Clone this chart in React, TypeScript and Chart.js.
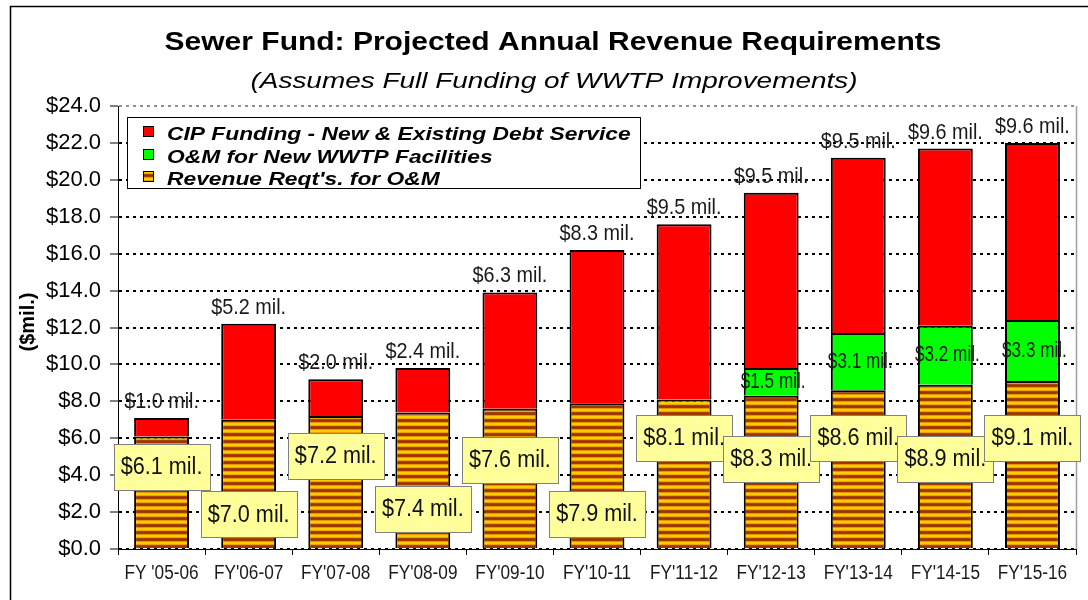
import React, { useEffect, useRef } from "react";
import { Chart, registerables } from "chart.js";

Chart.register(...registerables);

// ---------- data ----------
const categories = [
  "FY '05-06", "FY'06-07", "FY'07-08", "FY'08-09", "FY'09-10", "FY'10-11",
  "FY'11-12", "FY'12-13", "FY'13-14", "FY'14-15", "FY'15-16",
];
const omRequirements = [6.1, 7.0, 7.2, 7.4, 7.6, 7.9, 8.1, 8.3, 8.6, 8.9, 9.1];
const newWwtpOm = [0, 0, 0, 0, 0, 0, 0, 1.5, 3.1, 3.2, 3.3];
const cipDebtService = [1.0, 5.2, 2.0, 2.4, 6.3, 8.3, 9.5, 9.5, 9.5, 9.6, 9.6];
const yTickValues = [0, 2, 4, 6, 8, 10, 12, 14, 16, 18, 20, 22, 24];
const legendLabels = [
  "CIP Funding - New & Existing Debt Service",
  "O&M for New WWTP Facilities",
  "Revenue Reqt's. for O&M",
];
const titleText = "Sewer Fund: Projected Annual Revenue Requirements";
const subtitleText = "(Assumes Full Funding of WWTP Improvements)";
const yAxisTitle = "($mil.)";

// layout only: vertical level (on the $mil scale) of each O&M callout box
const omCalloutLevels = [4.45, 1.87, 5.05, 2.17, 4.83, 1.9, 6.03, 4.89, 6.03, 4.89, 6.03];

const fmtMil = (v: number) => `$${v.toFixed(1)} mil.`;
const SANS = "'Liberation Sans', Arial, Helvetica, sans-serif";

function makeStripes(): CanvasPattern | string {
  const c = document.createElement("canvas");
  c.width = 4;
  c.height = 7;
  const g = c.getContext("2d");
  if (!g) return "#cc8800";
  const rows = ["#993300", "#a33a00", "#e69400", "#ffcc00", "#ffcc00", "#eda200", "#aa4400"];
  rows.forEach((col, i) => {
    g.fillStyle = col;
    g.fillRect(0, i, 4, 1);
  });
  return g.createPattern(c, "repeat") || "#cc8800";
}

function makeCalloutFill(): CanvasPattern | string {
  const c = document.createElement("canvas");
  c.width = 9;
  c.height = 9;
  const g = c.getContext("2d");
  if (!g) return "#ffff99";
  g.fillStyle = "#ffff99";
  g.fillRect(0, 0, 9, 9);
  g.fillStyle = "#ffffee";
  g.fillRect(3, 3, 1, 1);
  return g.createPattern(c, "repeat") || "#ffff99";
}

function drawScaled(
  ctx: CanvasRenderingContext2D,
  text: string,
  x: number,
  y: number,
  font: string,
  sx: number,
  align: "left" | "center" | "right",
  baseline: CanvasTextBaseline,
  color = "#000"
) {
  ctx.save();
  ctx.font = font;
  ctx.textBaseline = baseline;
  ctx.textAlign = "left";
  ctx.fillStyle = color;
  const w = ctx.measureText(text).width * sx;
  const left = align === "center" ? x - w / 2 : align === "right" ? x - w : x;
  ctx.translate(left, y);
  ctx.scale(sx, 1);
  ctx.fillText(text, 0, 0);
  ctx.restore();
  return w;
}

export default function App() {
  const canvasRef = useRef<HTMLCanvasElement | null>(null);

  useEffect(() => {
    const canvas = canvasRef.current;
    if (!canvas) return;
    const stripes = makeStripes();
    const calloutFill = makeCalloutFill();
    const colors = ["#ff0000", "#00ff00", stripes];

    const decor = {
      id: "decor",
      beforeDraw(chart: any) {
        const ctx = chart.ctx as CanvasRenderingContext2D;
        ctx.save();
        ctx.fillStyle = "#ffffff";
        ctx.fillRect(0, 0, chart.width, chart.height);
        ctx.restore();
      },
      afterDatasetsDraw(chart: any) {
        const ctx = chart.ctx as CanvasRenderingContext2D;
        const a = chart.chartArea;
        const ys = chart.scales.y;
        const xs = chart.scales.x;
        // right plot border
        ctx.save();
        ctx.strokeStyle = "#a0a0a0";
        ctx.lineWidth = 1.5;
        ctx.beginPath();
        ctx.moveTo(a.right + 0.5, a.top);
        ctx.lineTo(a.right + 0.5, a.bottom);
        ctx.stroke();
        ctx.restore();

        // category labels (narrow face emulated by horizontal compression)
        categories.forEach((c, i) => {
          drawScaled(ctx, c, xs.getPixelForTick(i), a.bottom + 24, `20px ${SANS}`, 0.86, "center", "middle", "#1a1a1a");
        });

        const omMeta = chart.getDatasetMeta(0);
        const newMeta = chart.getDatasetMeta(1);
        const cipMeta = chart.getDatasetMeta(2);

        // CIP labels above stack
        cipDebtService.forEach((v, i) => {
          const el = cipMeta.data[i];
          drawScaled(ctx, fmtMil(v), el.x, el.y - 16, `22px ${SANS}`, 0.9, "center", "middle", "#1a1a1a");
        });
        // new WWTP O&M labels inside green
        newWwtpOm.forEach((v, i) => {
          if (v <= 0) return;
          const el = newMeta.data[i];
          drawScaled(ctx, fmtMil(v), el.x + 2, (el.y + el.base) / 2, `22px ${SANS}`, 0.78, "center", "middle", "#1a1a1a");
        });
        // O&M callouts
        omRequirements.forEach((v, i) => {
          const el = omMeta.data[i];
          const cy = ys.getPixelForValue(omCalloutLevels[i]);
          const font = `23px ${SANS}`;
          const sx = 0.94;
          ctx.save();
          ctx.font = font;
          const tw = ctx.measureText(fmtMil(v)).width * sx;
          const bw = Math.round(tw + 14);
          const bh = 46;
          const bx = Math.round(el.x - bw / 2) + 0.5;
          const by = Math.round(cy - bh / 2) + 0.5;
          ctx.fillStyle = calloutFill as any;
          ctx.fillRect(bx, by, bw, bh);
          ctx.strokeStyle = "#808080";
          ctx.lineWidth = 1;
          ctx.strokeRect(bx, by, bw, bh);
          ctx.restore();
          drawScaled(ctx, fmtMil(v), el.x, cy + 1, font, sx, "center", "middle", "#111");
        });

        // legend box
        ctx.save();
        ctx.fillStyle = "#fff";
        ctx.fillRect(127.5, 117.5, 513, 71);
        ctx.strokeStyle = "#000";
        ctx.lineWidth = 1;
        ctx.strokeRect(127.5, 117.5, 513, 71);
        const rowBase = [140, 163, 185];
        legendLabels.forEach((lab, i) => {
          const sy = rowBase[i] - 14;
          ctx.fillStyle = colors[i] as any;
          ctx.fillRect(143, sy, 10, 10);
          ctx.strokeStyle = "#000";
          ctx.lineWidth = 1;
          ctx.strokeRect(143.5, sy + 0.5, 10, 10);
          drawScaled(ctx, lab, 167, rowBase[i], `italic bold 19px ${SANS}`, 1.2, "left", "alphabetic", "#000");
        });
        ctx.restore();
      },
      afterDraw(chart: any) {
        const ctx = chart.ctx as CanvasRenderingContext2D;
        // outer frame
        ctx.save();
        ctx.strokeStyle = "#000";
        ctx.lineWidth = 1.5;
        ctx.strokeRect(10.5, 6.5, 1200, 700);
        ctx.restore();
        // titles
        drawScaled(ctx, titleText, 553, 50, `bold 25px ${SANS}`, 1.2, "center", "alphabetic", "#000");
        drawScaled(ctx, subtitleText, 554, 88, `italic 22px ${SANS}`, 1.27, "center", "alphabetic", "#000");
        // y axis title
        ctx.save();
        ctx.translate(28, 322);
        ctx.rotate(-Math.PI / 2);
        ctx.font = `bold 20px ${SANS}`;
        ctx.fillStyle = "#000";
        ctx.textAlign = "center";
        ctx.textBaseline = "middle";
        ctx.fillText(yAxisTitle, 0, 0);
        ctx.restore();
      },
    };

    const chart = new Chart(canvas, {
      type: "bar",
      data: {
        labels: categories,
        datasets: [
          { label: legendLabels[2], data: omRequirements, backgroundColor: stripes as any, borderColor: "#000", borderWidth: 2 },
          { label: legendLabels[1], data: newWwtpOm, backgroundColor: "#00ff00", borderColor: "#000", borderWidth: 2 },
          { label: legendLabels[0], data: cipDebtService, backgroundColor: "#ff0000", borderColor: "#000", borderWidth: 2 },
        ],
      },
      options: {
        responsive: false,
        animation: false,
        devicePixelRatio: 1,
        layout: { padding: { top: 106, right: 12, left: 0, bottom: 0 } },
        datasets: { bar: { barPercentage: 0.63, categoryPercentage: 1 } } as any,
        plugins: {
          legend: { display: false },
          title: { display: false },
          tooltip: { enabled: false },
        },
        scales: {
          x: {
            stacked: true,
            grid: { display: true, drawOnChartArea: false, drawTicks: true, tickLength: 6, color: "#000", offset: true },
            border: { display: true, color: "#000", width: 1 },
            ticks: { display: false, autoSkip: false },
            afterFit: (s: any) => { s.height = 51; },
          },
          y: {
            stacked: true,
            min: 0,
            max: 24,
            afterBuildTicks: (s: any) => { s.ticks = yTickValues.map((v) => ({ value: v })); },
            ticks: {
              callback: (v: any) => `$${Number(v).toFixed(1)}`,
              font: { family: SANS, size: 22 },
              color: "#000",
              padding: 9,
            },
            grid: {
              color: (c: any) => (c.tick && c.tick.value === 24 ? "#909090" : "#000"),
              lineWidth: 2,
              drawTicks: true,
              tickLength: 8,
              tickColor: "#000",
              tickWidth: 1,
              tickBorderDash: [],
            } as any,
            border: { display: true, color: "#000", width: 1, dash: [3, 4] },
            afterFit: (s: any) => { s.width = 118; },
          },
        },
      },
      plugins: [decor],
    });
    return () => chart.destroy();
  }, []);

  return (
    <div style={{ position: "absolute", left: 0, top: 0, width: 1088, height: 600, background: "#fff" }}>
      <canvas ref={canvasRef} width={1088} height={600} style={{ display: "block", width: 1088, height: 600 }} />
    </div>
  );
}
